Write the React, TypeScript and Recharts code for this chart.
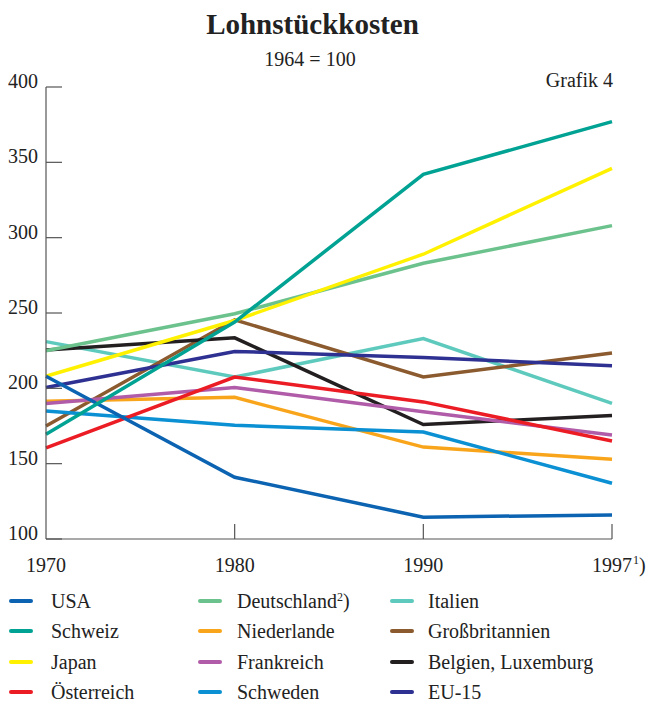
import React from "react";
import { LineChart, Line, XAxis, YAxis } from "recharts";

const years = ["1970", "1980", "1990", "1997"];
const yTicks = [100, 150, 200, 250, 300, 350, 400];

const usa = [208, 141, 114.5, 116];
const schweiz = [169.5, 244, 342, 377];
const japan = [208, 245, 289, 346];
const oesterreich = [160.5, 207.5, 191, 165];
const deutschland = [225, 249.5, 283, 308];
const niederlande = [191.5, 194, 161, 153];
const frankreich = [190, 200.5, 184.5, 169];
const schweden = [185, 175.5, 171, 137];
const italien = [231, 207.5, 233, 190];
const grossbritannien = [175, 245.5, 207.5, 223.5];
const belgien = [225.5, 233.5, 176, 182];
const eu15 = [200.5, 224.5, 220.5, 215];

const series = [
  { key: "usa", name: "USA", values: usa, color: "#0b63b1" },
  { key: "schweiz", name: "Schweiz", values: schweiz, color: "#00a293" },
  { key: "japan", name: "Japan", values: japan, color: "#fff100" },
  { key: "oesterreich", name: "Österreich", values: oesterreich, color: "#ec1c24" },
  { key: "deutschland", name: "Deutschland", sup: "2", values: deutschland, color: "#6cc28c" },
  { key: "niederlande", name: "Niederlande", values: niederlande, color: "#f9a51b" },
  { key: "frankreich", name: "Frankreich", values: frankreich, color: "#b05ca8" },
  { key: "schweden", name: "Schweden", values: schweden, color: "#0a90d3" },
  { key: "italien", name: "Italien", values: italien, color: "#5ecabd" },
  { key: "gb", name: "Großbritannien", values: grossbritannien, color: "#8b5a2e" },
  { key: "belgien", name: "Belgien, Luxemburg", values: belgien, color: "#231f20" },
  { key: "eu15", name: "EU-15", values: eu15, color: "#2e3192" },
];

// drawing order (last on top)
const drawOrder = ["italien", "gb", "belgien", "eu15", "niederlande", "frankreich", "schweden", "oesterreich", "deutschland", "japan", "usa", "schweiz"];

const data = years.map((year, i) => {
  const row: Record<string, string | number> = { year };
  series.forEach((s) => (row[s.key] = s.values[i]));
  return row;
});

const FONT = "'Liberation Serif', 'Times New Roman', serif";
const AXIS = "#555";

const YTick = ({ x, y, payload }: any) => (
  <g>
    <line x1={x} y1={y} x2={x + 16} y2={y} stroke={AXIS} strokeWidth={1.2} />
    <text x={x - 8} y={y + 1} textAnchor="end" fontSize={20} fontFamily={FONT} fill="#222">
      {payload.value}
    </text>
  </g>
);

const XTick = ({ x, y, payload, index }: any) => {
  const last = payload.value === "1997";
  return (
    <g>
      {index > 0 && <line x1={x} y1={y} x2={x} y2={y - 15} stroke={AXIS} strokeWidth={1.2} />}
      <text x={x} y={y + 33} textAnchor="middle" fontSize={20} fontFamily={FONT} fill="#222">
        {payload.value}
      </text>
      {last && (
        <text x={x + 21} y={y + 33} fontSize={20} fontFamily={FONT} fill="#222">
          <tspan fontSize={12} dy={-8}>1</tspan>
          <tspan dy={8}>)</tspan>
        </text>
      )}
    </g>
  );
};

const colX = [9, 198, 390];
const textX = [51, 237, 428];
const rowY = [601, 631, 662, 692];

export default function App() {
  return (
    <div style={{ position: "absolute", top: 0, left: 0, width: 650, height: 703, background: "#fff", fontFamily: FONT, color: "#222" }}>
      <div style={{ position: "absolute", top: 6, left: 0, width: 625, textAlign: "center", fontSize: 29, fontWeight: "bold", lineHeight: "36px" }}>
        Lohnstückkosten
      </div>
      <div style={{ position: "absolute", top: 46, left: 0, width: 620, textAlign: "center", fontSize: 20, lineHeight: "26px" }}>
        1964 = 100
      </div>
      <div style={{ position: "absolute", top: 67, right: 37, fontSize: 20, lineHeight: "26px" }}>Grafik 4</div>

      <div style={{ position: "absolute", top: 0, left: 0 }}>
        <LineChart width={650} height={590} data={data} margin={{ top: 87, right: 38, left: 0, bottom: 11 }}>
          <XAxis
            dataKey="year"
            type="category"
            interval={0}
            padding={{ left: 0, right: 0 }}
            height={40}
            tickSize={0}
            tickMargin={0}
            tickLine={false}
            axisLine={{ stroke: AXIS, strokeWidth: 1.2 }}
            tick={<XTick />}
          />
          <YAxis
            domain={[100, 400]}
            ticks={yTicks}
            width={46}
            tickSize={0}
            tickMargin={0}
            tickLine={false}
            axisLine={{ stroke: AXIS, strokeWidth: 1.2 }}
            tick={<YTick />}
          />
          {drawOrder.map((k) => {
            const s = series.find((d) => d.key === k)!;
            return (
              <Line
                key={k}
                dataKey={k}
                name={s.name}
                stroke={s.color}
                strokeWidth={3.5}
                dot={false}
                type="linear"
                isAnimationActive={false}
              />
            );
          })}
        </LineChart>
      </div>

      {series.map((s, i) => {
        const c = Math.floor(i / 4);
        const r = i % 4;
        return (
          <React.Fragment key={s.key}>
            <div style={{ position: "absolute", left: colX[c], top: rowY[r] - 2, width: 24, height: 4, borderRadius: 2, background: s.color }} />
            <div style={{ position: "absolute", left: textX[c], top: rowY[r] - 13, fontSize: 20, lineHeight: "26px", whiteSpace: "nowrap" }}>
              {s.name}
              {s.sup && (
                <>
                  <sup style={{ fontSize: 12, verticalAlign: "top", position: "relative", top: -4 }}>{s.sup}</sup>)
                </>
              )}
            </div>
          </React.Fragment>
        );
      })}
    </div>
  );
}
